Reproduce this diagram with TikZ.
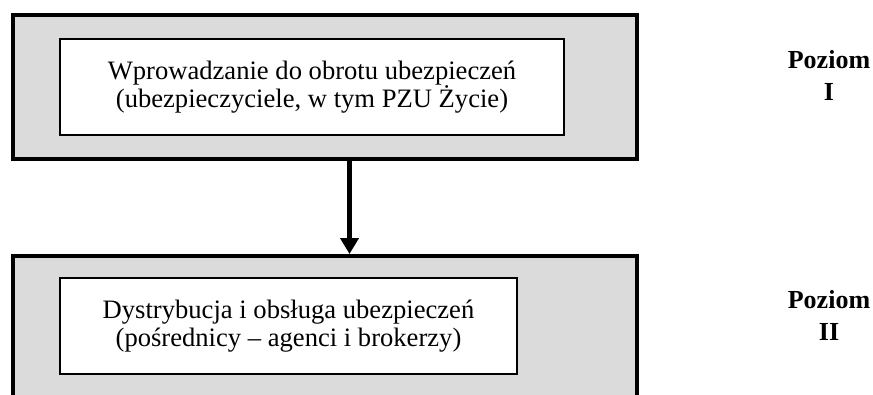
\documentclass[tikz,border=0pt]{standalone}
\usepackage{fontspec}
\setmainfont{Liberation Serif}
\usetikzlibrary{arrows.meta}
\definecolor{panelgray}{HTML}{DBDBDB}
\begin{document}
\begin{tikzpicture}[x=1pt,y=-1pt,
  outerbox/.style={draw=black, line width=4pt, fill=panelgray, inner sep=0pt},
  innerbox/.style={draw=black, line width=1.5pt, fill=white, inner sep=0pt, align=center,
    font=\fontsize{26.6}{28}\selectfont},
  levellabel/.style={align=center, inner sep=0pt, font=\fontsize{26}{31.5}\selectfont\bfseries},
  flow/.style={line width=5pt, -{Triangle[width=18pt,length=16pt]}}]
\clip (0,0) rectangle (873,394);
\node[outerbox, minimum width=624pt, minimum height=144pt] (o1) at (325,87) {};
\node[outerbox, minimum width=624pt, minimum height=170pt] (o2) at (325,341) {};
\node[innerbox, minimum width=504pt, minimum height=96pt] (i1) at (312,87)
  {Wprowadzanie do obrotu ubezpieczeń\\(ubezpieczyciele, w tym PZU Życie)};
\node[innerbox, minimum width=457pt, minimum height=96pt] (i2) at (288.5,326)
  {Dystrybucja i obsługa ubezpieczeń\\(pośrednicy – agenci i brokerzy)};
\coordinate (ax) at (349.5,0);
\draw[flow] (o1.south -| ax) -- (o2.north -| ax);
\node[levellabel, anchor=base] (l1) at (829,100) {Poziom\\I};
\node[levellabel, anchor=base] (l2) at (829,340) {Poziom\\II};
\end{tikzpicture}
\end{document}
